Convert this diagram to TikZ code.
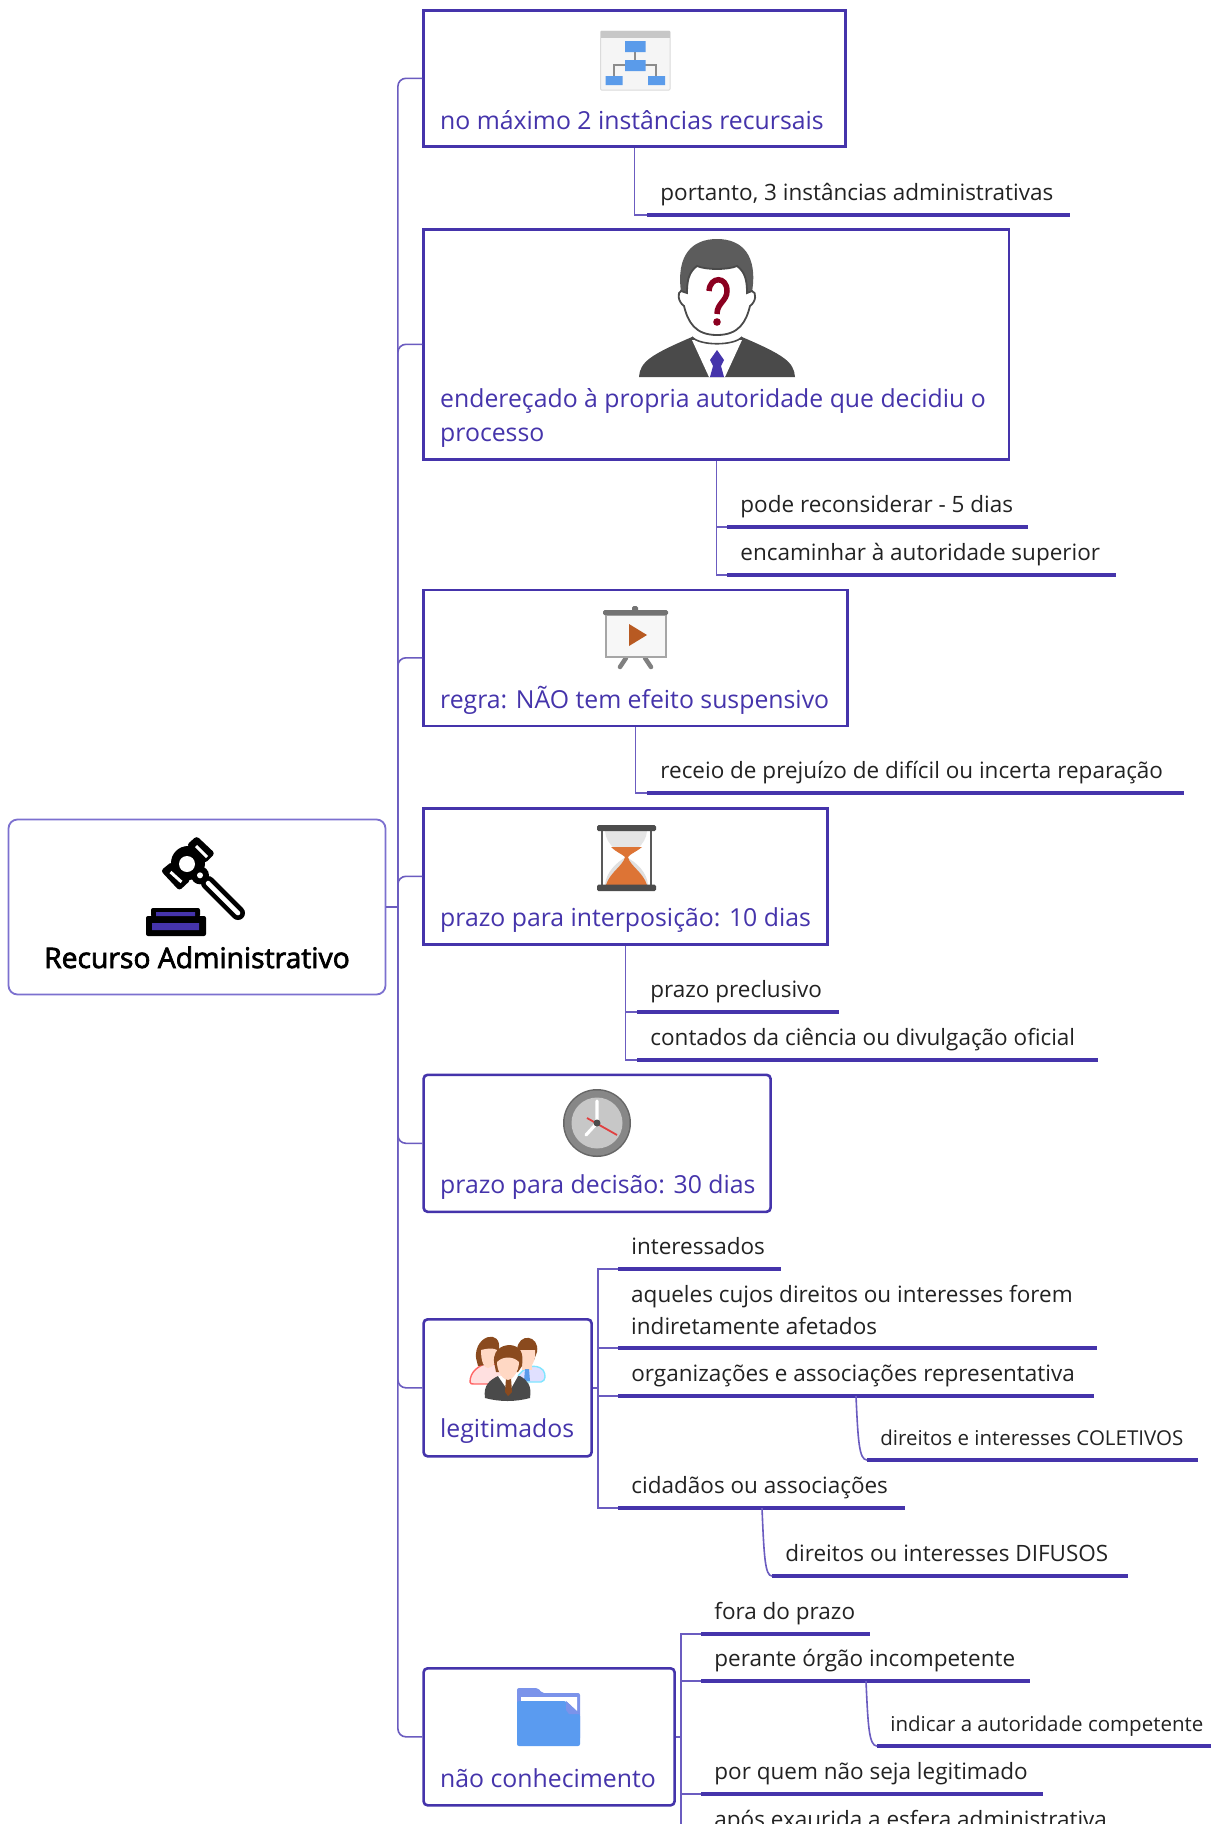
\documentclass[tikz,border=0pt]{standalone}
\usepackage{fontspec}
\usetikzlibrary{calc}
\setmainfont{Open Sans}
\newfontfamily\rootfont[FakeBold=2.5]{Open Sans}
\definecolor{ink}{HTML}{4534AB}
\definecolor{wire}{HTML}{6B5CC0}
\definecolor{rootedge}{HTML}{7C70CF}
\definecolor{leaf}{HTML}{222222}
\definecolor{chartblue}{HTML}{5A9BEA}
\definecolor{suit}{HTML}{4A4A4A}
\tikzset{
  bx/.style={draw=ink,line width=2.6pt,fill=white,inner sep=0pt,anchor=north west},
  rbx/.style={bx,rounded corners=4pt},
  lab/.style={text=ink,font=\fontsize{24.8}{34}\selectfont,inner sep=0pt,anchor=base west},
  sublab/.style={text=leaf,font=\fontsize{22.5}{32}\selectfont,inner sep=0pt,anchor=base west},
  smalllab/.style={text=leaf,font=\fontsize{20.5}{30}\selectfont,inner sep=0pt,anchor=base west},
  uline/.style={draw=ink,line width=3.4pt},
  wirel/.style={draw=wire,line width=1.6pt},
  trunkl/.style={wirel,rounded corners=8pt},
}
\newcommand{\leafitem}[6][sublab]{%
  \coordinate (#2-l) at (#3,#5);
  \coordinate (#2-r) at (#4,#5);
  \node[#1] (#2) at (#3+13.2,#5-14.5) {#6};
  \draw[uline] (#2-l) -- (#2-r);
}
\begin{document}
\begin{tikzpicture}[x=1pt,y=-1pt]
\useasboundingbox (0,0) rectangle (1211,1824);
\fill[white] (0,0) rectangle (1211,1824);

% root
\node[draw=rootedge,line width=1.8pt,rounded corners=9pt,fill=white,inner sep=0pt,anchor=north west,minimum width=377pt,minimum height=175pt] (root) at (7.6,818.6) {};
\node[text=black,font=\rootfont\fontsize{28.3}{30}\selectfont,inner sep=0pt,anchor=base] (roott) at (197,968) {Recurso Administrativo};

% branch boxes
\node[bx,minimum width=422pt,minimum height=136pt] (b1) at (422.3,9) {};
\node[bx,minimum width=585.5pt,minimum height=230pt] (b2) at (422.3,228) {};
\node[bx,minimum width=424pt,minimum height=136pt] (b3) at (422.3,588.5) {};
\node[bx,minimum width=404pt,minimum height=136pt] (b4) at (422.3,807) {};
\node[rbx,minimum width=347pt,minimum height=137pt] (b5) at (422.3,1073.5) {};
\node[rbx,minimum width=168pt,minimum height=137pt] (b6) at (422.3,1318) {};
\node[rbx,minimum width=251pt,minimum height=137pt] (b7) at (422.3,1667) {};

\node[lab] (b1t) at (440,129) {no máximo 2 instâncias recursais};
\node[lab] (b2t) at (440,407) {endereçado à propria autoridade que decidiu o};
\node[lab] (b2u) at (440,441) {processo};
\node[lab] (b3t) at (440,708) {regra: NÃO tem efeito suspensivo};
\node[lab] (b4t) at (440,926) {prazo para interposição: 10 dias};
\node[lab] (b5t) at (440,1193) {prazo para decisão: 30 dias};
\node[lab] (b6t) at (440,1437) {legitimados};
\node[lab] (b7t) at (440,1787) {não conhecimento};

% trunk connectors
\coordinate (trunk) at ($(root.east)+(11.5,0)$);
\draw[wirel] (root.east) -- (trunk);
\foreach \b in {b1,b2,b3,b4,b5,b6,b7}{
  \draw[trunkl] (trunk) |- (\b.west);
}

% leaves
\leafitem{c1}{647}{1070}{215}{portanto, 3 instâncias administrativas}
\leafitem{c2a}{727}{1028}{527}{pode reconsiderar - 5 dias}
\leafitem{c2b}{727}{1116}{575}{encaminhar à autoridade superior}
\leafitem{c3}{647}{1184}{793}{receio de prejuízo de difícil ou incerta reparação}
\leafitem{c4a}{637}{839}{1012}{prazo preclusivo}
\leafitem{c4b}{637}{1098}{1060}{contados da ciência ou divulgação oficial}
\leafitem{c6a}{618}{781}{1269}{interessados}
\coordinate (c6b-l) at (618,1348);
\coordinate (c6b-r) at (1097,1348);
\node[sublab] (c6b) at (631,1302) {aqueles cujos direitos ou interesses forem};
\node[sublab] (c6bb) at (631,1334) {indiretamente afetados};
\draw[uline] (c6b-l) -- (c6b-r);
\leafitem{c6c}{618}{1094}{1396}{organizações e associações representativa}
\leafitem[smalllab]{c6d}{867}{1198}{1460}{direitos e interesses COLETIVOS}
\leafitem{c6e}{618}{905}{1508}{cidadãos ou associações}
\leafitem{c6f}{772}{1128}{1576}{direitos ou interesses DIFUSOS}
\leafitem{c7a}{701}{870}{1634}{fora do prazo}
\leafitem{c7b}{701}{1030}{1681}{perante órgão incompetente}
\leafitem[smalllab]{c7c}{877}{1211}{1746}{indicar a autoridade competente}
\leafitem{c7d}{701}{1043}{1794}{por quem não seja legitimado}
\leafitem{c7e}{701}{1108}{1842}{após exaurida a esfera administrativa}

% leaf connectors
\draw[wirel] (b1.south) |- (c1-l);
\draw[wirel] (b2.south) |- (c2a-l);
\draw[wirel] (b2.south) |- (c2b-l);
\draw[wirel] (b3.south) |- (c3-l);
\draw[wirel] (b4.south) |- (c4a-l);
\draw[wirel] (b4.south) |- (c4b-l);
\foreach \c in {c6a,c6b,c6c,c6e}{\draw[wirel] (b6.east) -- ++(5,0) |- (\c-l);}
\foreach \c in {c7a,c7b,c7d,c7e}{\draw[wirel] (b7.east) -- ++(5,0) |- (\c-l);}
\coordinate (o6d) at (856,1396);
\coordinate (o6f) at (762,1508);
\coordinate (o7c) at (866,1681);
\draw[wirel] (o6d) .. controls (858,1440) and (859,1460) .. (c6d-l);
\draw[wirel] (o6f) .. controls (764,1556) and (765,1576) .. (c6f-l);
\draw[wirel] (o7c) .. controls (868,1726) and (869,1746) .. (c7c-l);

% icon: org chart
\fill[fill=black!4,draw=black!14,line width=1pt,rounded corners=1pt] (600.5,31) rectangle (670,90);
\fill[black!22] (600.5,31) rectangle (670,38);
\draw[black!45,line width=1.4pt] (635,52) -- (635,60) (625,65) -| (614,76) (645,65) -| (656,76);
\fill[chartblue] (625,41) rectangle (645.5,52) (625,60) rectangle (645.5,71) (605.5,76) rectangle (622.5,85) (648,76) rectangle (665,85);

% icon: person
\fill[suit] (639,377) .. controls (640,362) and (650,355) .. (692,337) -- (717,345) -- (742,337) .. controls (784,355) and (794,362) .. (795,377) -- cycle;
\fill[white] (692,340) -- (742,340) -- (725,377) -- (709,377) -- cycle;
\fill[ink] (717,350) -- (724,360) -- (721,366) -- (724,377) -- (710,377) -- (713,366) -- (710,360) -- cycle;
\draw[suit,line width=1.6pt,fill=white] (692,337) .. controls (700,346) and (734,346) .. (742,337);
\fill[suit!90] (681,292) .. controls (676,255) and (692,239) .. (717,239) .. controls (742,239) and (758,255) .. (752,292) -- cycle;
\draw[suit,line width=1.8pt,fill=white] (681,291) .. controls (677,292) and (678,302) .. (684,306) .. controls (688,322) and (695,335) .. (717,335) .. controls (739,335) and (746,322) .. (750,306) .. controls (756,302) and (757,292) .. (752,291) -- (747,293) .. controls (747,280) and (745,272) .. (737,266) .. controls (728,270) and (706,270) .. (697,266) .. controls (689,272) and (687,280) .. (687,293) -- cycle;
\draw[draw={rgb,255:red,139;green,0;blue,32},line width=5.5pt] (709,291) .. controls (710,276) and (727,276) .. (727,291) .. controls (727,301) and (717,303) .. (717,314);
\fill[fill={rgb,255:red,139;green,0;blue,32}] (717,322) circle (3.8);

% icon: easel
\draw[black!50,line width=4.5pt,line cap=round] (626,658) -- (620,667) (645,658) -- (651,667);
\fill[black!55,rounded corners=1.5pt] (632,606) rectangle (638,612);
\draw[draw=black!35,fill=black!3,line width=1.2pt] (606,615) rectangle (666,657);
\fill[black!55,rounded corners=1.5pt] (603,610) rectangle (668,615);
\fill[fill={rgb,255:red,184;green,90;blue,34}] (629,624) -- (647,635) -- (629,646) -- cycle;

% icon: hourglass
\fill[black!10] (605,831) .. controls (606,846) and (621,853) .. (626,857) .. controls (631,853) and (646,846) .. (647,831) -- cycle;
\fill[black!12] (626,857) .. controls (617,862) and (606,872) .. (605,885) -- (648,885) .. controls (647,872) and (636,862) .. (626,857) -- cycle;
\fill[fill={rgb,255:red,221;green,116;blue,53}] (611,847) -- (642,847) .. controls (636,852) and (630,854) .. (628,857) .. controls (630,866) and (643,872) .. (647,885) -- (606,885) .. controls (610,872) and (623,866) .. (625,857) .. controls (622,854) and (616,852) .. (611,847) -- cycle;
\draw[black!65,line width=2pt] (602,830) -- (602,886) (651,830) -- (651,886);
\fill[black!70,rounded corners=1.5pt] (597,825) rectangle (656,831) (597,884.5) rectangle (656,891);

% icon: clock
\fill[black!60] (597,1123) circle (34);
\fill[black!47] (597,1123) circle (32.5);
\fill[black!22] (597,1123) circle (25.5);
\draw[white,line width=3.2pt,line cap=round] (597,1123) -- (597,1101) (597,1123) -- (586,1135);
\draw[draw={rgb,255:red,224;green,64;blue,64},line width=1.8pt] (587,1118) -- (617,1135);
\fill[black!70] (597,1123) circle (3.5);

% icon: three people
\definecolor{hairc}{HTML}{8A4A1E}
\definecolor{skinc}{HTML}{FFD8C4}
\draw[draw=red!60,fill=red!12,line width=1.4pt] (470,1382) .. controls (470,1372) and (478,1366) .. (487,1363) .. controls (494,1362) and (504,1368) .. (510,1376) -- (496,1384) -- (474,1384) .. controls (472,1384) and (470,1384) .. (470,1382) -- cycle;
\draw[draw=blue!20!cyan!50,fill=blue!12,line width=1.4pt] (517,1378) .. controls (522,1368) and (535,1362) .. (543,1370) .. controls (546,1374) and (546,1381) .. (541,1382) -- (525,1382) -- cycle;
\fill[hairc] (476,1358) .. controls (474,1335) and (502,1328) .. (499,1350) -- (500,1358) -- (492,1364) -- (478,1366) -- cycle;
\fill[skinc] (481,1350) .. controls (488,1348) and (494,1348) .. (497,1350) .. controls (498,1362) and (492,1368) .. (488,1368) .. controls (484,1368) and (481,1362) .. (481,1350) -- cycle;
\fill[hairc] (517,1350) .. controls (518,1332) and (540,1335) .. (537,1352) -- (534,1360) -- (520,1360) -- cycle;
\fill[skinc] (520,1350) -- (535,1350) .. controls (536,1362) and (531,1368) .. (527,1368) .. controls (523,1368) and (520,1362) .. (520,1350) -- cycle;
\fill[skinc] (522,1364) rectangle (532,1370);
\fill[fill=chartblue] (525,1369) -- (529,1369) -- (530,1381) -- (524,1381) -- cycle;
\fill[suit] (485,1398) .. controls (483,1385) and (490,1380) .. (498,1376) -- (520,1376) .. controls (527,1380) and (532,1385) .. (530,1398) .. controls (515,1402) and (500,1402) .. (485,1398) -- cycle;
\fill[white] (498,1376) -- (518,1376) -- (509,1392) -- cycle;
\fill[hairc] (506,1378) -- (511,1378) -- (512,1392) -- (508,1396) -- (505,1392) -- cycle;
\fill[hairc] (494,1362) .. controls (493,1346) and (507,1345) .. (510,1345) .. controls (520,1346) and (524,1352) .. (522,1366) -- (518,1372) -- (496,1372) -- cycle;
\fill[skinc] (497,1362) .. controls (503,1356) and (513,1356) .. (519,1362) .. controls (519,1372) and (512,1380) .. (508,1380) .. controls (503,1380) and (497,1372) .. (497,1362) -- cycle;

% icon: folder
\definecolor{folderb}{HTML}{7B93EA}
\definecolor{folderf}{HTML}{5A9BF0}
\fill[folderb,rounded corners=2pt] (517,1688) -- (538,1688) -- (542,1693) -- (580,1693) -- (580,1740) -- (517,1740) -- cycle;
\fill[white] (521,1697) -- (577,1697) -- (577,1712) -- (565,1702) -- (521,1702) -- cycle;
\fill[folderf,rounded corners=2pt] (517,1701) -- (566,1701) -- (580,1714) -- (580,1746) -- (517,1746) -- cycle;
\fill[folderb] (566,1701) -- (580,1714) -- (569,1714) -- (566,1710) -- cycle;

% icon: gavel
\fill[black,rounded corners=2pt] (146,916) rectangle (206,936);
\fill[black,rounded corners=2pt] (151,908) rectangle (200,917);
\fill[ink] (152,923) rectangle (199,930) (156,912) rectangle (195,916);
\draw[black,line width=14pt,line cap=round] (208,883) -- (238,913);
\draw[white,line width=4.6pt,line cap=round] (208,883) -- (238,913);
\fill[black,rounded corners=3pt] (186.7,845) -- (196.7,836) -- (215,853.3) -- (205,863.3) -- cycle;
\fill[black,rounded corners=3pt] (160.7,870.7) -- (171.7,861.7) -- (190.7,880) -- (179.3,890.7) -- cycle;
\fill[black] (188,863) circle (17);
\fill[black] (200,875.3) circle (9);
\fill[white] (187,864) circle (8);
\fill[white] (200,875.3) circle (3);
\draw[white,line width=3pt] (196,846) -- (207,857) (170.5,872) -- (181.5,882);
\end{tikzpicture}
\end{document}
